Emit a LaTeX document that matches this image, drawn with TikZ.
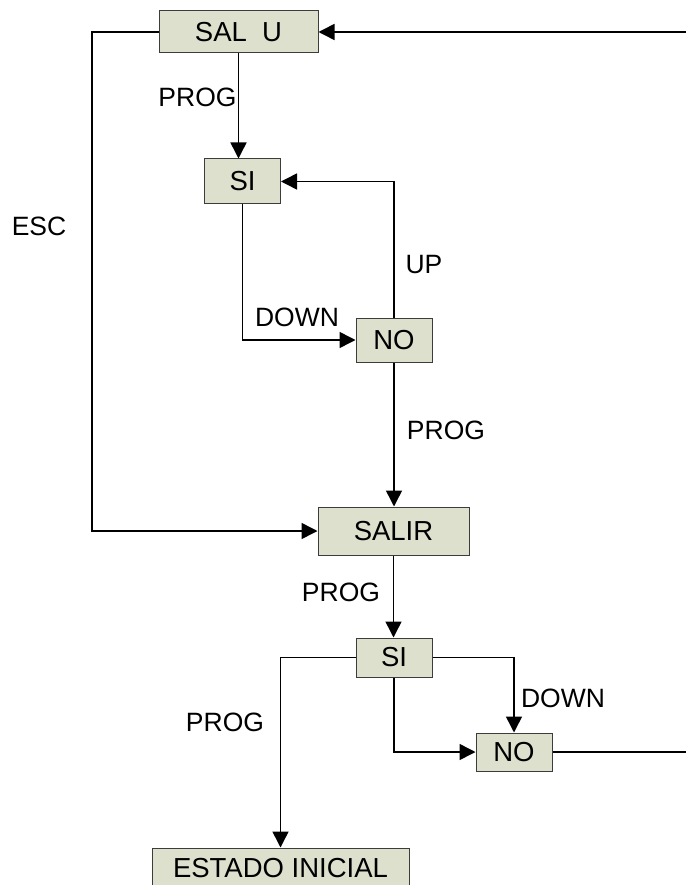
\documentclass[tikz,border=0pt]{standalone}
\usepackage{fontspec}
\setmainfont{Liberation Sans}
\usetikzlibrary{arrows.meta}
\definecolor{boxfill}{RGB}{220,224,204}
\definecolor{boxline}{RGB}{60,60,60}
\tikzset{
  state/.style={draw=boxline, line width=1pt, fill=boxfill, inner sep=0pt,
    font=\fontsize{27.5}{32}\selectfont},
  conn/.style={line width=1.5pt, draw=black},
  arr/.style={conn, -{Triangle[length=16pt,width=16pt]}},
  lbl/.style={font=\fontsize{26.5}{32}\selectfont, inner sep=0pt}
}
\begin{document}
\begin{tikzpicture}[x=1pt,y=-1pt]
\useasboundingbox (0,0) rectangle (686,885);
\begin{scope}
\clip (0,0) rectangle (686,885);
\node[state, minimum width=159pt, minimum height=42pt] (salu) at (238.5,32) {SAL~~U};
\node[state, minimum width=76pt, minimum height=45pt] (si1) at (242.5,181.5) {SI};
\node[state, minimum width=76pt, minimum height=44pt] (no1) at (394,340) {NO};
\node[state, minimum width=151pt, minimum height=48pt] (salir) at (393.5,531) {SALIR};
\node[state, minimum width=76pt, minimum height=39pt] (si2) at (394,657.5) {SI};
\node[state, minimum width=76pt, minimum height=38pt] (no2) at (514,752) {NO};
\node[state, minimum width=257pt, minimum height=40pt] (estado) at (280.5,868) {ESTADO INICIAL};

\coordinate (rtop) at (686,32);
\coordinate (rbot) at (686,752);
\coordinate (escx) at (92,32);

\draw[arr] (rtop) -- (salu.east);
\draw[arr] (salu.west) -- (escx) |- (salir.west);
\draw[arr] (salu.south) -- (salu.south |- si1.north);
\draw[arr] (si1.south) |- (no1.west);
\draw[arr] (no1.north) |- (si1.east);
\draw[arr] (no1.south) -- (no1.south |- salir.north);
\draw[arr] (salir.south) -- (salir.south |- si2.north);
\draw[arr] (si2.east) -| (no2.north);
\draw[arr] (si2.south) |- (no2.west);
\draw[conn] (no2.east) -- (rbot);
\draw[arr] (si2.west) -| (estado.north);

\node[lbl] (l1) at (197.5,97) {PROG};
\node[lbl] (l2) at (39,226.5) {ESC};
\node[lbl] (l3) at (424,265) {UP};
\node[lbl] (l4) at (297,317) {DOWN};
\node[lbl] (l5) at (446,430) {PROG};
\node[lbl] (l6) at (341,592.5) {PROG};
\node[lbl] (l7) at (563,698) {DOWN};
\node[lbl] (l8) at (225,722) {PROG};
\end{scope}
\end{tikzpicture}
\end{document}
